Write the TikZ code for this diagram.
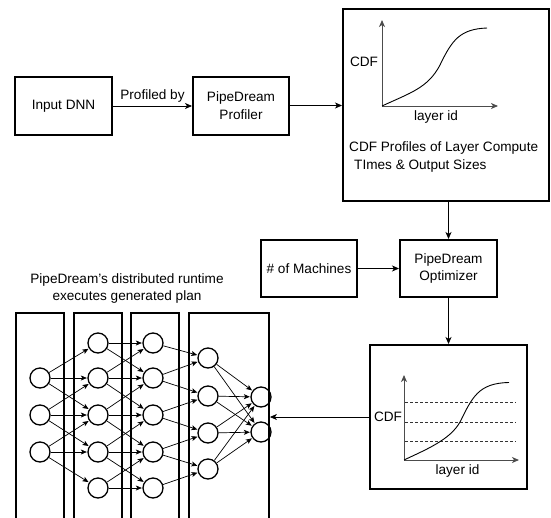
\documentclass[tikz,border=0pt]{standalone}
\usepackage{fontspec}
\setmainfont{Liberation Sans}
\usetikzlibrary{arrows.meta}
\tikzset{
  box/.style={draw, line width=2pt, inner sep=0pt, align=center},
  colbox/.style={draw, line width=1.8pt, inner sep=0pt},
  neuron/.style={circle, draw, line width=1.3pt, minimum size=20pt, inner sep=0pt},
  conn/.style={-{Stealth[length=7pt,width=6pt,inset=2pt]}, line width=0.8pt},
  nconn/.style={-{Stealth[length=6pt,width=5pt,inset=1.5pt]}, line width=0.7pt, shorten >=0.5pt},
  axis/.style={-{Stealth[length=7pt,width=6pt,inset=2pt]}, line width=0.9pt, draw=black!70},
  lbl/.style={inner sep=0pt, align=center},
  dashline/.style={dash pattern=on 3pt off 2pt, line width=0.7pt, draw=black!80}
}
\begin{document}
\begin{tikzpicture}[x=1pt,y=-1pt, font=\fontsize{13.6}{17.5}\selectfont]
\useasboundingbox (0,0) rectangle (551,517);
% top row
\node[box, minimum width=97pt, minimum height=58pt] (in) at (63.5,106) {Input DNN};
\node[box, minimum width=96pt, minimum height=58pt] (prof) at (241,105.5) {PipeDream\\Profiler};
\node[box, minimum width=206pt, minimum height=192pt] (cdfa) at (446,105) {};
\draw[conn] (in.east) -- (prof.west |- in.east) node[midway, above=3pt, lbl] (pby) {Profiled by};
\draw[conn] (prof.east) -- (cdfa.west |- prof.east);
% first plot
\coordinate (o1) at (382,106);
\coordinate (y1) at (382,20);
\coordinate (x1) at (498,106);
\draw[axis] (o1) -- (y1);
\draw[axis] (o1) -- (x1);
\draw[line width=0.9pt] (o1) .. controls (410,93) and (428,88) .. (440,65) .. controls (452,40) and (460,29) .. (487,28);
\node[lbl] (cdf1) at (364,62) {CDF};
\node[lbl] (lid1) at (436,117) {layer id};
\node[lbl, anchor=west] (cap1) at (349,148) {CDF Profiles of Layer Compute};
\node[lbl, anchor=west] (cap2) at (354,166) {TImes \& Output Sizes};
% middle row
\node[box, minimum width=96pt, minimum height=57pt] (mach) at (309,268.5) {\# of Machines};
\node[box, minimum width=97pt, minimum height=57pt] (opt) at (448.5,268.5) {PipeDream\\Optimizer};
\draw[conn] (mach.east) -- (opt.west |- mach.east);
\draw[conn] (cdfa.south -| opt.north) -- (opt.north);
% bottom right box
\node[box, minimum width=157pt, minimum height=144pt] (cdfb) at (448.5,417) {};
\draw[conn] (opt.south) -- (opt.south |- cdfb.north);
\coordinate (o2) at (404,460);
\coordinate (y2) at (404,375);
\coordinate (x2) at (519,460);
\draw[dashline] (405,402) -- (516,402);
\draw[dashline] (405,422) -- (516,422);
\draw[dashline] (405,441) -- (516,441);
\draw[axis] (o2) -- (y2);
\draw[axis] (o2) -- (x2);
\draw[line width=0.9pt] (o2) .. controls (425,450) and (450,440) .. (460,422) .. controls (472,398) and (478,383) .. (509,382.5);
\node[lbl] (cdf2) at (388,417) {CDF};
\node[lbl] (lid2) at (457.5,471) {layer id};
% runtime
\node[lbl] (rt) at (127,288.5) {PipeDream's distributed runtime\\executes generated plan};
\begin{scope}
\clip (0,0) rectangle (551,517);
\node[colbox, minimum width=48pt, minimum height=215pt] (col1) at (40,420.5) {};
\node[colbox, minimum width=48pt, minimum height=215pt] (col2) at (98,420.5) {};
\node[colbox, minimum width=48pt, minimum height=215pt] (col3) at (155,420.5) {};
\node[colbox, minimum width=80pt, minimum height=215pt] (col4) at (229,420.5) {};
\end{scope}
\draw[conn] (cdfb.west) -- (cdfb.west -| col4.east);
% neurons
\foreach \i/\y in {1/378,2/415,3/452} \node[neuron] (a\i) at (40,\y) {};
\foreach \i/\y in {1/343,2/378,3/415,4/452,5/488} {
  \node[neuron] (b\i) at (98,\y) {};
  \node[neuron] (c\i) at (153,\y) {};
}
\foreach \i/\y in {1/358,2/396,3/433,4/469} \node[neuron] (d\i) at (208,\y) {};
\foreach \i/\y in {1/397,2/432} \node[neuron] (e\i) at (261,\y) {};
% edges a->b
\foreach \i in {1,2,3} {
  \pgfmathtruncatemacro{\ja}{\i}
  \pgfmathtruncatemacro{\jb}{\i+1}
  \pgfmathtruncatemacro{\jc}{\i+2}
  \draw[nconn] (a\i) -- (b\ja);
  \draw[nconn] (a\i) -- (b\jb);
  \draw[nconn] (a\i) -- (b\jc);
}
% edges b->c
\foreach \i in {1,...,5} {
  \draw[nconn] (b\i) -- (c\i);
  \ifnum\i>1 \pgfmathtruncatemacro{\jm}{\i-1}\draw[nconn] (b\i) -- (c\jm);\fi
  \ifnum\i<5 \pgfmathtruncatemacro{\jp}{\i+1}\draw[nconn] (b\i) -- (c\jp);\fi
}
% edges c->d
\foreach \i in {1,...,5} {
  \ifnum\i<5 \draw[nconn] (c\i) -- (d\i);\fi
  \ifnum\i>1 \pgfmathtruncatemacro{\jm}{\i-1}\draw[nconn] (c\i) -- (d\jm);\fi
}
% edges d->e
\foreach \i in {1,...,4} {
  \draw[nconn] (d\i) -- (e1);
  \draw[nconn] (d\i) -- (e2);
}
\end{tikzpicture}
\end{document}
